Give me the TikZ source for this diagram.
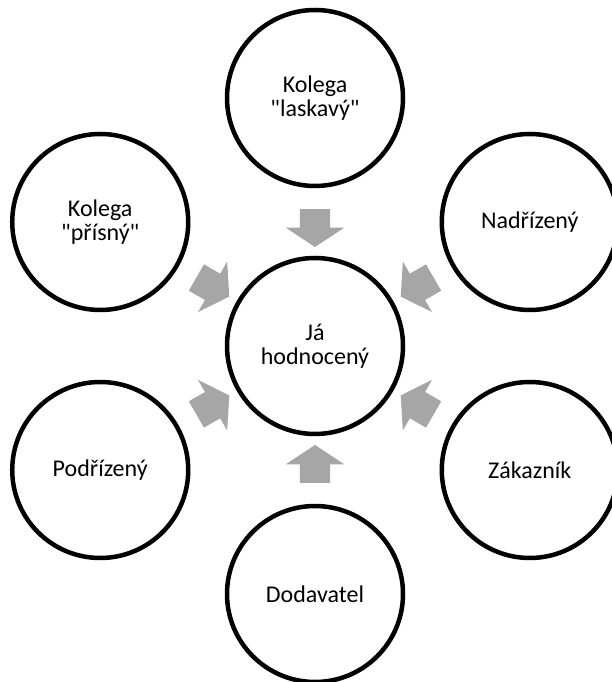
\documentclass[tikz,border=0pt]{standalone}
\usepackage{fontspec}
\setmainfont{Carlito}[Ligatures=TeXOff]
\usetikzlibrary{shapes.arrows,calc}
\definecolor{arrowgray}{RGB}{166,166,166}

\begin{document}
\begin{tikzpicture}[
  x=1pt, y=1pt,
  person/.style={draw,circle,line width=4.5pt,minimum size=176pt,align=center,
    font=\fontsize{24}{24}\selectfont},
  inarrow/.style={single arrow,fill=arrowgray,inner sep=0pt,inner ysep=15pt,
    minimum height=38pt,single arrow head extend=14pt,single arrow tip angle=113}
]
\useasboundingbox (0,0) rectangle (612,682);

\node[person] (me) at (315,336) {Já\\hodnocený};
\node[person] (kind) at ($(me)+(90:248pt)$) {Kolega\\"laskavý"};
\node[person] (boss) at ($(me)+(30:248pt)$) {Nadřízený};
\node[person] (customer) at ($(me)+(-30:248pt)$) {Zákazník};
\node[person] (supplier) at ($(me)+(-90:248pt)$) {Dodavatel};
\node[person] (sub) at ($(me)+(-150:248pt)$) {Podřízený};
\node[person] (strict) at ($(me)+(150:248pt)$) {Kolega\\"přísný"};

% arrows toward the centre
\foreach \who/\ang in {kind/90,boss/30,customer/-30,supplier/-90,sub/-150,strict/150}
  \node[inarrow,rotate=\ang+180] (to-\who) at ($(me)!123pt!(\who)$) {};

\end{tikzpicture}
\end{document}
